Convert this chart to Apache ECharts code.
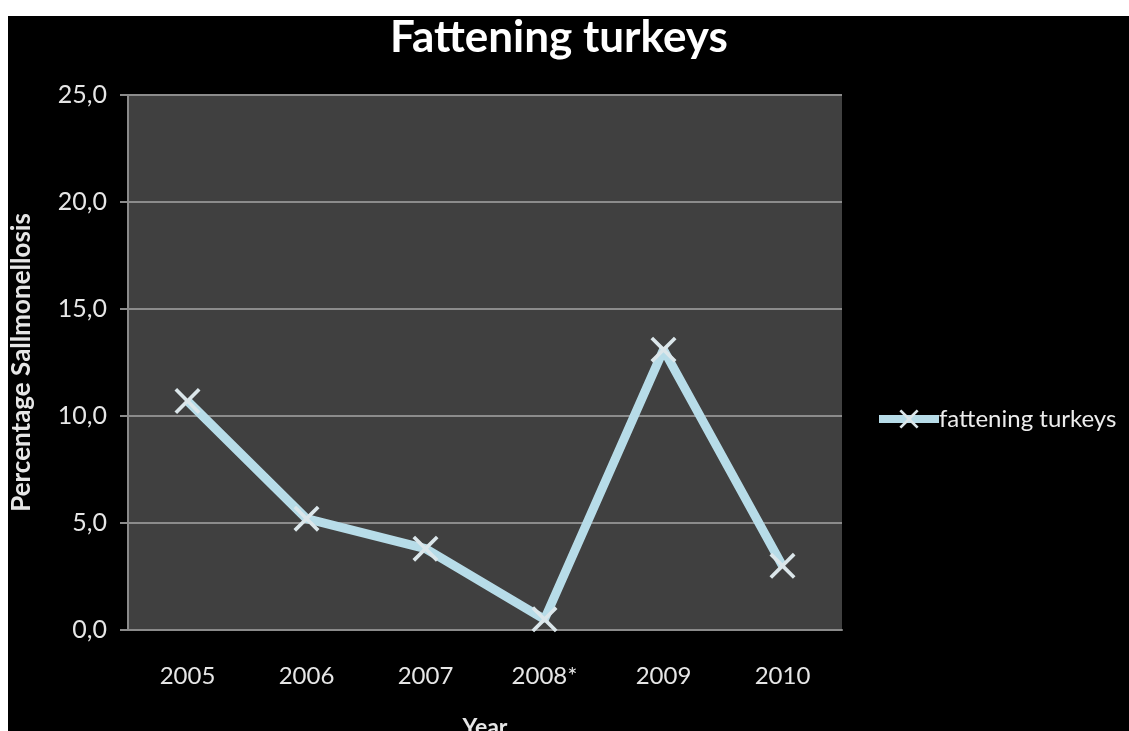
<!DOCTYPE html>
<html>
<head>
<meta charset="utf-8">
<script src="https://cdn.jsdelivr.net/npm/echarts@6/dist/echarts.min.js"></script>
<style>
  html, body { margin: 0; padding: 0; background: #fff; overflow: hidden; }
  #chart { position: absolute; left: 8px; top: 16px; width: 1121px; height: 715px; background: #000; }
</style>
</head>
<body>
<div id="chart"></div>
<script>
// data
const years = ["2005", "2006", "2007", "2008*", "2009", "2010"];
const turkeyValues = [10.7, 5.2, 3.8, 0.5, 13.1, 3.0];
const seriesName = "fattening turkeys";

// X shaped marker
const crossPath = "path://M0,1L1,0L5,4L9,0L10,1L6,5L10,9L9,10L5,6L1,10L0,9L4,5Z";
const font = "Lato";

var chart = echarts.init(document.getElementById("chart"));
const option = {
  backgroundColor: "#000",
  animation: false,
  title: {
    text: "Fattening turkeys",
    left: 382,
    top: 0,
    padding: 0,
    textStyle: { color: "#fff", fontSize: 44, fontWeight: "bold", fontFamily: font }
  },
  legend: {
    left: 862,
    top: 386,
    itemWidth: 60,
    itemHeight: 24,
    itemGap: 0,
    lineStyle: { width: 8 },
    textStyle: { color: "#ececec", fontSize: 24, fontFamily: font, padding: [0, 0, 0, -5] },
    data: [{ name: seriesName }]
  },
  grid: {
    left: 120,
    top: 79,
    right: 287,
    bottom: 101,
    outerBoundsMode: "none",
    show: true,
    backgroundColor: "#404040",
    borderWidth: 0
  },
  xAxis: {
    type: "category",
    data: years,
    boundaryGap: true,
    name: "Year",
    nameLocation: "middle",
    nameGap: 86,
    nameTextStyle: { color: "#e6e6e6", fontSize: 23, fontWeight: "bold", fontFamily: font },
    axisLine: { lineStyle: { color: "#8a8a8a", width: 2 } },
    axisTick: { show: false },
    axisLabel: { color: "#e6e6e6", fontSize: 24, fontFamily: font, margin: 34 }
  },
  yAxis: {
    type: "value",
    min: 0,
    max: 25,
    interval: 5,
    name: "Percentage Sallmonellosis",
    nameLocation: "middle",
    nameGap: 93,
    nameTextStyle: { color: "#e6e6e6", fontSize: 26, fontWeight: "bold", fontFamily: font },
    axisLine: { show: true, lineStyle: { color: "#8a8a8a", width: 2 } },
    axisTick: { show: true, length: 8, lineStyle: { color: "#8a8a8a", width: 2 } },
    axisLabel: {
      color: "#e6e6e6", fontSize: 25, fontFamily: font, margin: 21,
      formatter: function (v) { return v.toFixed(1).replace(".", ","); }
    },
    splitLine: { lineStyle: { color: "#8c8c8c", width: 2 } }
  },
  series: [{
    name: seriesName,
    type: "line",
    data: turkeyValues,
    symbol: crossPath,
    symbolSize: 26,
    lineStyle: { color: "#b7dce8", width: 9 },
    itemStyle: { color: "#dbe6ea" }
  }]
};
chart.setOption(option);
</script>
</body>
</html>
